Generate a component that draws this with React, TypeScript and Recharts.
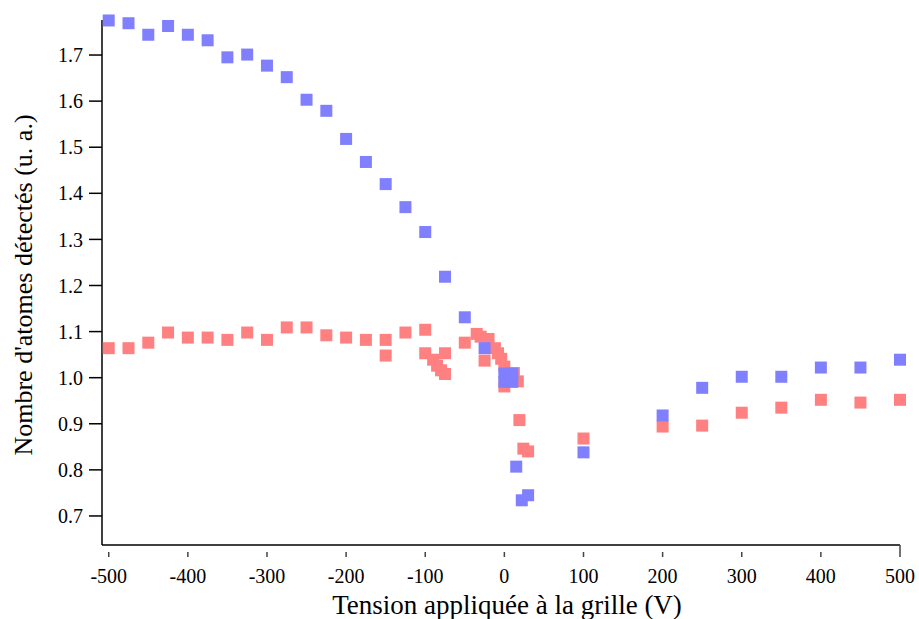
import React from 'react';
import { ScatterChart, Scatter, XAxis, YAxis, Label } from 'recharts';

// Tension (V) / nombre d'atomes (u. a.)
const blueVoltages = [
  -500, -475, -450, -425, -400, -375, -350, -325, -300, -275, -250, -225, -200, -175, -150, -125, -100, -75, -50, -25,
  0, 0, 10, 10, 15, 22, 30, 100, 200, 250, 300, 350, 400, 450, 500,
];
const blueValues = [
  1.775, 1.769, 1.744, 1.763, 1.744, 1.732, 1.695, 1.701, 1.677, 1.652, 1.603, 1.579, 1.518, 1.468, 1.42, 1.37, 1.316,
  1.219, 1.131, 1.064, 1.009, 0.991, 1.009, 0.991, 0.807, 0.734, 0.745, 0.838, 0.918, 0.978, 1.002, 1.002, 1.022,
  1.022, 1.039,
];

const redVoltages = [
  -500, -475, -450, -425, -400, -375, -350, -325, -300, -275, -250, -225, -200, -175, -150, -150, -125, -100, -100, -90,
  -85, -80, -75, -75, -50, -35, -30, -25, -20, -12, -8, -4, 0, 0, 12, 17, 19, 24, 30, 100, 200, 250, 300, 350, 400,
  450, 500,
];
const redValues = [
  1.064, 1.064, 1.076, 1.098, 1.087, 1.087, 1.082, 1.098, 1.082, 1.109, 1.109, 1.092, 1.087, 1.082, 1.082, 1.048,
  1.098, 1.104, 1.053, 1.039, 1.026, 1.016, 1.008, 1.053, 1.076, 1.095, 1.089, 1.037, 1.084, 1.064, 1.053, 1.041,
  1.024, 0.981, 1.01, 0.992, 0.908, 0.846, 0.84, 0.868, 0.894, 0.896, 0.924, 0.935, 0.952, 0.946, 0.952,
];

const xTicks = [-500, -400, -300, -200, -100, 0, 100, 200, 300, 400, 500];
const yTicks = [0.7, 0.8, 0.9, 1.0, 1.1, 1.2, 1.3, 1.4, 1.5, 1.6, 1.7];

const blueData = blueVoltages.map((v, i) => ({ v, n: blueValues[i] }));
const redData = redVoltages.map((v, i) => ({ v, n: redValues[i] }));

const FONT = '"Liberation Serif", "Times New Roman", serif';

const square = (color: string) => (props: any) => (
  <rect x={props.cx - 6} y={props.cy - 6} width={12} height={12} fill={color} />
);

const XTick = (props: any) => {
  const { x, y, payload } = props;
  // the last tick closes the axis line
  const top = payload.value === 500 ? y : y + 7;
  return (
    <g>
      <line x1={x} x2={x} y1={top} y2={y + 12} stroke="#444" strokeWidth={1.5} />
      <text x={x} y={y + 38} textAnchor="middle" fontSize={20} fontFamily={FONT} fill="#000">
        {payload.value}
      </text>
    </g>
  );
};

const App: React.FC = () => {
  return (
    <div style={{ position: 'absolute', left: 0, top: 0, background: '#fff' }}>
      <ScatterChart width={919} height={619} margin={{ top: 20, right: 19, bottom: 14, left: 0 }}>
        <XAxis
          type="number"
          dataKey="v"
          domain={[-508.5, 500]}
          ticks={xTicks}
          height={60}
          tickSize={0}
          tickMargin={0}
          tickLine={false}
          axisLine={{ stroke: '#000', strokeWidth: 1.5 }}
          tick={<XTick />}
        >
          <Label
            content={() => (
              <text x={507} y={614} textAnchor="middle" fontSize={27} fontFamily={FONT} fill="#000">
                Tension appliquée à la grille (V)
              </text>
            )}
          />
        </XAxis>
        <YAxis
          type="number"
          dataKey="n"
          domain={[0.637, 1.776]}
          ticks={yTicks}
          width={102}
          tickSize={13}
          tickMargin={6}
          tickFormatter={(t: number) => t.toFixed(1)}
          tickLine={{ stroke: '#000', strokeWidth: 1.5 }}
          axisLine={{ stroke: '#000', strokeWidth: 1.5 }}
          tick={{ fontSize: 20, fontFamily: FONT, fill: '#000' }}
        >
          <Label
            content={() => (
              <text
                x={32}
                y={285}
                transform="rotate(-90, 32, 285)"
                textAnchor="middle"
                fontSize={26}
                fontFamily={FONT}
                fill="#000"
              >
                Nombre d'atomes détectés (u. a.)
              </text>
            )}
          />
        </YAxis>
        <Scatter data={redData} fill="#ff8080" shape={square('#ff8080')} isAnimationActive={false} />
        <Scatter data={blueData} fill="#8080ff" shape={square('#8080ff')} isAnimationActive={false} />
      </ScatterChart>
    </div>
  );
};

export default App;
